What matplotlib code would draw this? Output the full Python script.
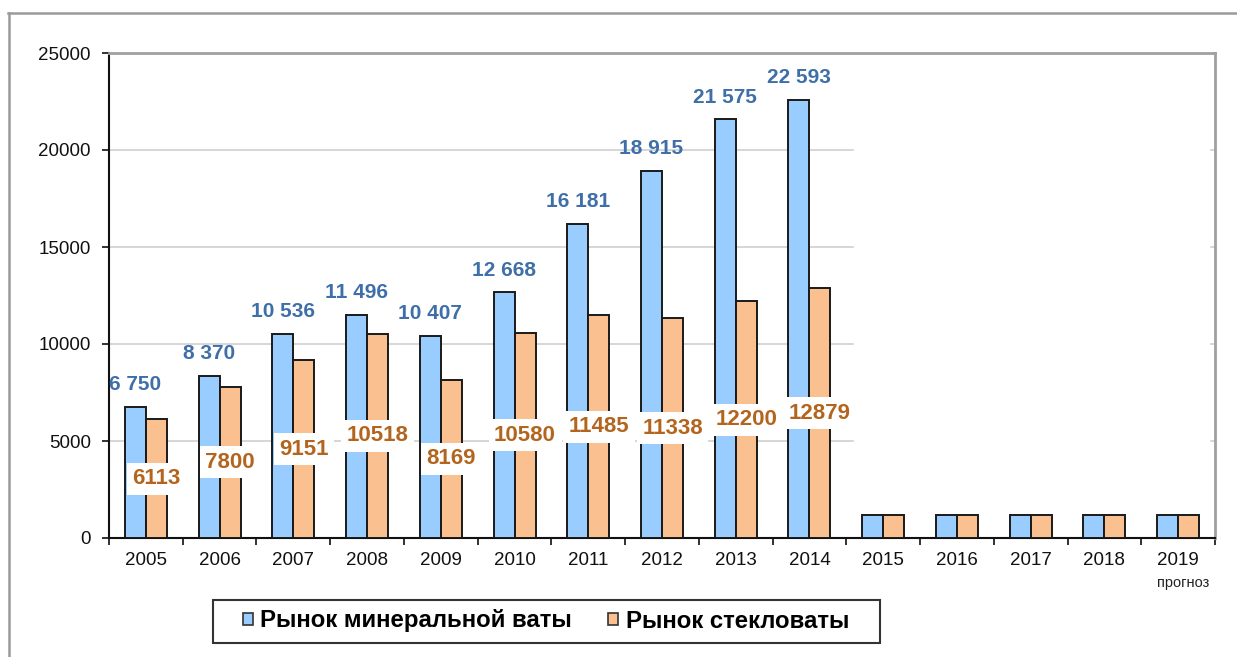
import numpy as np
import matplotlib.pyplot as plt
from matplotlib.patches import Patch, Rectangle
from matplotlib.lines import Line2D

# %% data

years = ['2005', '2006', '2007', '2008', '2009', '2010', '2011', '2012',
         '2013', '2014', '2015', '2016', '2017', '2018', '2019']
mineral_wool = [6750, 8370, 10536, 11496, 10407, 12668, 16181, 18915,
                21575, 22593, 1200, 1200, 1200, 1200, 1200]
glass_wool = [6113, 7800, 9151, 10518, 8169, 10580, 11485, 11338,
              12200, 12879, 1200, 1200, 1200, 1200, 1200]
n_labeled = 10
y_ticks = [0, 5000, 10000, 15000, 20000, 25000]
legend_labels = ['Рынок минеральной ваты', 'Рынок стекловаты']
forecast_note = 'прогноз'

# %% style

blue = '#99CCFF'
orange = '#FAC090'
blue_text = '#3F6FA8'
orange_text = '#B3651E'
edge = '#1a1a1a'
font = 'Liberation Sans'

W, H = 1237, 657
fig = plt.figure(figsize=(W / 100, H / 100), dpi=100)
ax = fig.add_axes([109 / W, 1 - 538 / H, (1215 - 109) / W, (538 - 53) / H])

x = np.arange(len(years))
w = 0.285
ax.bar(x - w / 2, mineral_wool, w, color=blue, edgecolor=edge, linewidth=1.4, zorder=3)
ax.bar(x + w / 2, glass_wool, w, color=orange, edgecolor=edge, linewidth=1.4, zorder=3)

ax.set_xlim(-0.5, len(years) - 0.5)
ax.set_ylim(0, 25000)

# gridlines only run to just past 2014
grid_frac = (853 - 109) / (1215 - 109)
for t in y_ticks[1:-1]:
    ax.axhline(t, xmin=0, xmax=grid_frac, color='#d0d0d0', linewidth=1.2, zorder=1)
    ax.axhline(t, xmin=0.996, xmax=1, color='#d0d0d0', linewidth=1.2, zorder=1)

# labels
for i in range(n_labeled):
    ax.annotate('{:,}'.format(mineral_wool[i]).replace(',', ' '),
                (x[i] - w / 2, mineral_wool[i]), xytext=(0, 16), textcoords='offset points',
                ha='center', va='center', fontsize=15, fontweight='bold',
                color=blue_text, family=font, zorder=5)
    ax.text(x[i] + w / 2, glass_wool[i] / 2, str(glass_wool[i]),
            ha='center', va='center', fontsize=16, fontweight='bold',
            color=orange_text, family=font, zorder=5,
            bbox=dict(facecolor='white', edgecolor='none', pad=4))

# axes styling
ax.set_yticks(y_ticks)
ax.set_yticklabels([str(t) for t in y_ticks], fontsize=13.5, family=font, color='#111111')
ax.set_xticks(x)
ax.set_xticklabels(years, fontsize=13.5, family=font, color='#111111')
ax.set_xticks(np.arange(-0.5, len(years)), minor=True)
ax.tick_params(axis='x', which='major', length=0, pad=10)
ax.tick_params(axis='x', which='minor', length=5, width=1.3, color='#222222')
ax.tick_params(axis='y', length=5, width=1.3, color='#222222', pad=8)

for s in ['left', 'bottom']:
    ax.spines[s].set_color('#111111')
    ax.spines[s].set_linewidth(1.5)
for s in ['top', 'right']:
    ax.spines[s].set_color('#a0a0a0')
    ax.spines[s].set_linewidth(2)

ax.text(len(years) - 1 + 0.07, -0.092, forecast_note, transform=ax.get_xaxis_transform(),
        ha='center', va='center', fontsize=10.5, family=font, color='#222222')

# outer frame
fig.add_artist(Line2D([8 / W, 1], [1 - 13 / H, 1 - 13 / H], color='#9a9a9a', linewidth=1.8))
fig.add_artist(Line2D([9 / W, 9 / W], [1 - 13 / H, 0], color='#9a9a9a', linewidth=1.8))

# legend
fig.add_artist(Rectangle((213 / W, 1 - 643 / H), (880 - 213) / W, 43 / H,
                         transform=fig.transFigure, facecolor='white',
                         edgecolor='#333333', linewidth=1.5))
handles = [Patch(facecolor=blue, edgecolor='#333333', linewidth=1.2),
           Patch(facecolor=orange, edgecolor='#333333', linewidth=1.2)]
fig.legend(handles, legend_labels, loc='center', bbox_to_anchor=(546 / W, 1 - 621 / H),
           ncol=2, frameon=False, handlelength=0.42, handleheight=0.42,
           handletextpad=0.3, columnspacing=1.5,
           prop=dict(family=font, weight='bold', size=17.3))

fig.savefig('out.png', dpi=100)
